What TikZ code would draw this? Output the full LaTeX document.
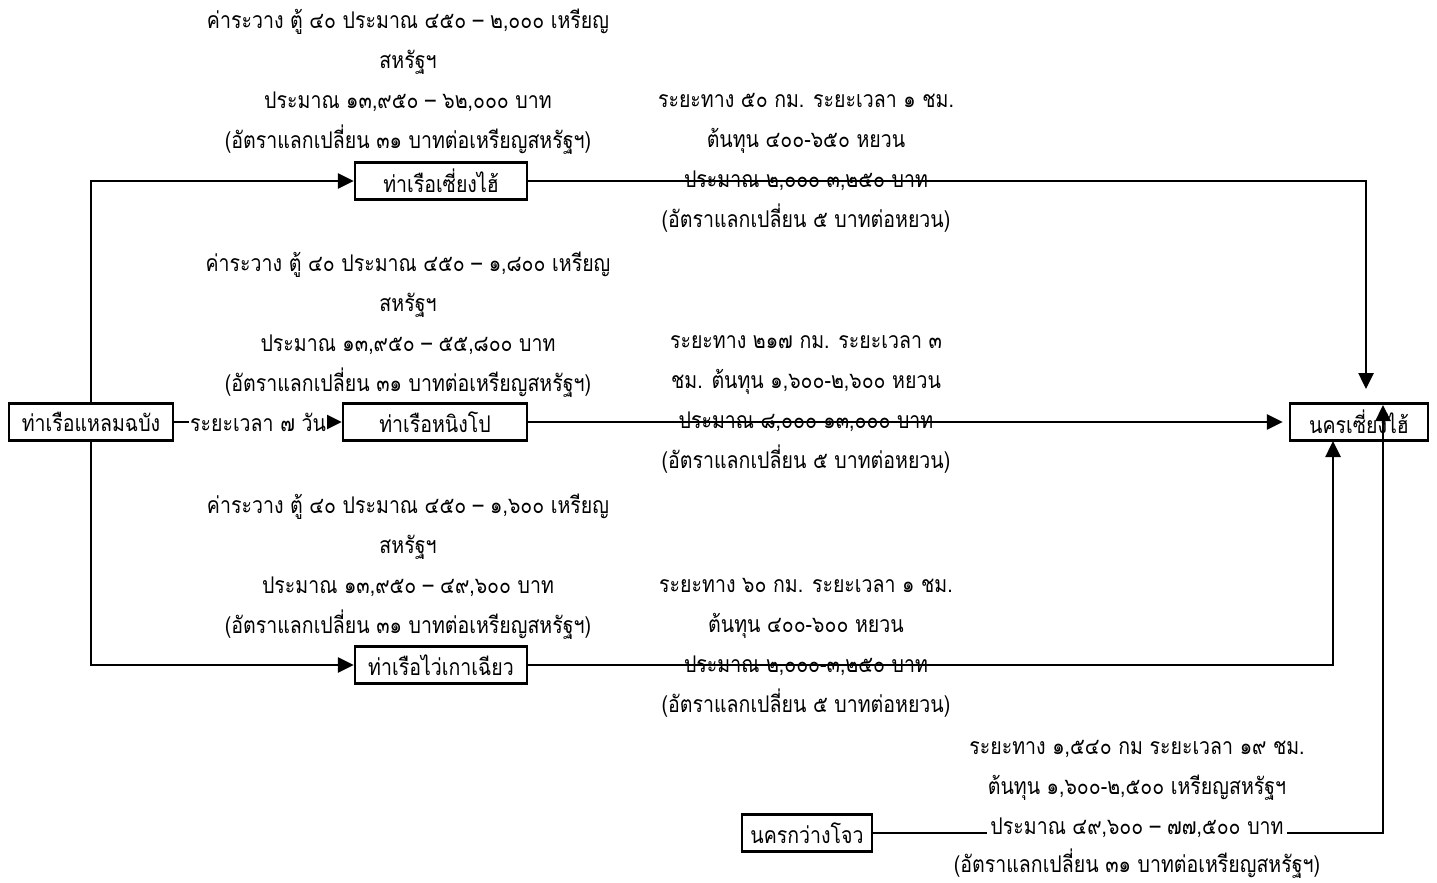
\documentclass[tikz,border=0pt]{standalone}
\usepackage{fontspec}
\newfontfamily\thaifont[Script=Thai,FakeStretch=0.85]{Loma}
\usetikzlibrary{arrows.meta}
\tikzset{
  x=1pt, y=-1pt,
  portbox/.style={draw, line width=2.4pt, minimum height=37pt, inner xsep=4pt,
    font=\thaifont\fontsize{23}{26}\selectfont},
  lbl/.style={align=center, inner sep=0pt, font=\thaifont\fontsize{23}{40}\selectfont},
  conn/.style={line width=2.6pt},
  arr/.style={conn, -{Triangle[length=16pt,width=15pt]}}
}
\begin{document}
\begin{tikzpicture}
\useasboundingbox (0,0) rectangle (1437,883);
% boxes
\node[portbox, minimum width=164pt] (lcb) at (91,422) {ท่าเรือแหลมฉบัง};
\node[portbox, minimum width=184pt] (nb) at (435,422) {ท่าเรือหนิงโป};
\node[portbox, minimum width=172pt] (shp) at (441,181) {ท่าเรือเซี่ยงไฮ้};
\node[portbox, minimum width=172pt] (wgq) at (441,665) {ท่าเรือไว่เกาเฉียว};
\node[portbox, minimum width=138pt] (shc) at (1359,422) {นครเซี่ยงไฮ้};
\node[portbox, minimum width=130pt] (gz) at (807,833) {นครกว่างโจว};
% labels
\node[lbl] (la) at (408,82) {ค่าระวาง ตู้ ๔๐ ประมาณ ๔๕๐ – ๒,๐๐๐ เหรียญ\\สหรัฐฯ\\ประมาณ ๑๓,๙๕๐ – ๖๒,๐๐๐ บาท\\(อัตราแลกเปลี่ยน ๓๑ บาทต่อเหรียญสหรัฐฯ)};
\node[lbl] (lb) at (806,163) {ระยะทาง ๕๐ กม. ระยะเวลา ๑ ชม.\\ต้นทุน ๔๐๐-๖๕๐ หยวน\\ประมาณ ๒,๐๐๐-๓,๒๕๐ บาท\\(อัตราแลกเปลี่ยน ๕ บาทต่อหยวน)};
\node[lbl] (lc) at (408,325) {ค่าระวาง ตู้ ๔๐ ประมาณ ๔๕๐ – ๑,๘๐๐ เหรียญ\\สหรัฐฯ\\ประมาณ ๑๓,๙๕๐ – ๕๕,๘๐๐ บาท\\(อัตราแลกเปลี่ยน ๓๑ บาทต่อเหรียญสหรัฐฯ)};
\node[lbl] (ld) at (806,404) {ระยะทาง ๒๑๗ กม. ระยะเวลา ๓\\ชม. ต้นทุน ๑,๖๐๐-๒,๖๐๐ หยวน\\ประมาณ ๘,๐๐๐-๑๓,๐๐๐ บาท\\(อัตราแลกเปลี่ยน ๕ บาทต่อหยวน)};
\node[lbl] (le) at (408,567) {ค่าระวาง ตู้ ๔๐ ประมาณ ๔๕๐ – ๑,๖๐๐ เหรียญ\\สหรัฐฯ\\ประมาณ ๑๓,๙๕๐ – ๔๙,๖๐๐ บาท\\(อัตราแลกเปลี่ยน ๓๑ บาทต่อเหรียญสหรัฐฯ)};
\node[lbl] (lf) at (806,648) {ระยะทาง ๖๐ กม. ระยะเวลา ๑ ชม.\\ต้นทุน ๔๐๐-๖๐๐ หยวน\\ประมาณ ๒,๐๐๐-๓,๒๕๐ บาท\\(อัตราแลกเปลี่ยน ๕ บาทต่อหยวน)};
\node[lbl] (lg1) at (1137,770) {ระยะทาง ๑,๕๔๐ กม ระยะเวลา ๑๙ ชม.\\ต้นทุน ๑,๖๐๐-๒,๕๐๐ เหรียญสหรัฐฯ};
\node[lbl] (lg3) at (1137,864) {(อัตราแลกเปลี่ยน ๓๑ บาทต่อเหรียญสหรัฐฯ)};
% corner coordinates
\coordinate (c1) at (1366,389);
\coordinate (c3) at (1333,441);
\coordinate (c4) at (1383,405);
% connectors
\draw[arr] (lcb.north) |- (shp.west);
\draw[arr] (lcb.south) |- (wgq.west);
\draw[arr] (lcb.east) -- node[fill=white, inner xsep=1pt, inner ysep=2pt, font=\thaifont\fontsize{23}{26}\selectfont] (t7) {ระยะเวลา ๗ วัน} (nb.west);
\draw[arr] (shp.east) -| (c1);
\draw[arr, shorten >=6pt] (nb.east) -- (nb.east -| shc.west);
\draw[arr] (wgq.east) -| (c3);
\draw[arr] (gz.east) -- (gz.east -| c4) -- (c4);
\node[lbl, fill=white, inner xsep=3pt, inner ysep=2pt] (lg2) at (1137,828) {ประมาณ ๔๙,๖๐๐ – ๗๗,๕๐๐ บาท};
\end{tikzpicture}
\end{document}
